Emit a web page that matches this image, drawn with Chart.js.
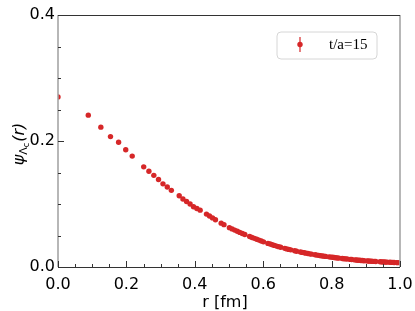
<!DOCTYPE html>
<html>
<head>
<meta charset="utf-8">
<script src="https://cdn.jsdelivr.net/npm/chart.js@4.4.1/dist/chart.umd.min.js"></script>
<style>
html, body { margin: 0; padding: 0; background: #fff; }
#wrap { width: 415px; height: 311px; }
</style>
</head>
<body>
<div id="wrap"><canvas id="psiChart" width="415" height="311"></canvas></div>
<script>
// lattice distances r [fm] and wave function values
var rVals = [0, 0.0886, 0.1253, 0.1535, 0.1772, 0.1981, 0.2170, 0.2506, 0.2658, 0.2802,
    0.2939, 0.3069, 0.3195, 0.3315, 0.3544, 0.3653, 0.3759, 0.3862, 0.3962, 0.4060,
    0.4156, 0.4341, 0.4430, 0.4518, 0.4604, 0.4771, 0.4853, 0.5012, 0.5090, 0.5166,
    0.5242, 0.5316, 0.5389, 0.5462, 0.5604, 0.5673, 0.5742, 0.5810, 0.5877, 0.5943,
    0.6009, 0.6138, 0.6202, 0.6265, 0.6327, 0.6389, 0.6450, 0.6511, 0.6630, 0.6689,
    0.6748, 0.6806, 0.6920, 0.6976, 0.7088, 0.7143, 0.7198, 0.7252, 0.7306, 0.7360,
    0.7413, 0.7518, 0.7570, 0.7622, 0.7673, 0.7724, 0.7775, 0.7825, 0.7925, 0.7974,
    0.8023, 0.8072, 0.8120, 0.8169, 0.8216, 0.8311, 0.8359, 0.8405, 0.8452, 0.8544,
    0.8590, 0.8681, 0.8726, 0.8771, 0.8816, 0.8860, 0.8904, 0.8948, 0.9035, 0.9079,
    0.9122, 0.9165, 0.9207, 0.9250, 0.9292, 0.9418, 0.9460, 0.9501, 0.9543, 0.9584,
    0.9624, 0.9706, 0.9746, 0.9786, 0.9826, 0.9906, 0.9945];
var psiVals = [0.270, 0.241, 0.222, 0.207, 0.198, 0.186, 0.176, 0.159, 0.152, 0.1455,
    0.139, 0.132, 0.127, 0.1217, 0.113, 0.108, 0.104, 0.100, 0.0957, 0.0929,
    0.0902, 0.0840, 0.0810, 0.0779, 0.0749, 0.0696, 0.0672, 0.0625, 0.0605, 0.0586,
    0.0567, 0.0549, 0.0532, 0.0515, 0.0484, 0.0469, 0.0455, 0.0441, 0.0427, 0.0413,
    0.0399, 0.0375, 0.0364, 0.0353, 0.0343, 0.0332, 0.0323, 0.0313, 0.0296, 0.0287,
    0.0279, 0.0272, 0.0257, 0.0250, 0.0238, 0.0232, 0.0226, 0.0220, 0.0214, 0.0209,
    0.0204, 0.0194, 0.0189, 0.0185, 0.0180, 0.0176, 0.0172, 0.0168, 0.0161, 0.0157,
    0.0154, 0.0150, 0.0147, 0.0144, 0.0141, 0.0135, 0.0132, 0.0129, 0.0126, 0.0121,
    0.0118, 0.0113, 0.0111, 0.0108, 0.0106, 0.0104, 0.0102, 0.0100, 0.0097, 0.0095,
    0.0093, 0.0092, 0.0090, 0.0089, 0.0087, 0.0083, 0.0082, 0.0080, 0.0079, 0.0078,
    0.0077, 0.0075, 0.0074, 0.0073, 0.0072, 0.0070, 0.0069];
var seriesLabel = 't/a=15';
var xMajor = [0, 0.2, 0.4, 0.6, 0.8, 1.0];
var yMajor = [0, 0.2, 0.4];
var xMinorStep = 0.05;
var yMinorStep = 0.05;

var red = '#d62728';
var points = [];
for (var i = 0; i < rVals.length; i++) {
    points.push({x: rVals[i], y: psiVals[i]});
}

var framePlugin = {
    id: 'frame',
    afterDatasetsDraw: function(chart) {
        var c = chart.ctx;
        var a = chart.chartArea;
        var xs = chart.scales.x, ys = chart.scales.y;
        c.save();
        // spines
        c.lineWidth = 1.5;
        c.strokeStyle = '#a0a0a0';
        c.beginPath();
        c.moveTo(a.left, a.top); c.lineTo(a.left, a.bottom);
        c.moveTo(a.right, a.top); c.lineTo(a.right, a.bottom);
        c.stroke();
        c.lineWidth = 1;
        c.strokeStyle = '#333';
        c.beginPath();
        c.moveTo(a.left, a.top + 0.5); c.lineTo(a.right, a.top + 0.5);
        c.moveTo(a.left, a.bottom + 0.5); c.lineTo(a.right, a.bottom + 0.5);
        c.stroke();
        // inward ticks
        c.beginPath();
        for (var v = 0; v <= 1.0001; v += xMinorStep) {
            var px = Math.round(xs.getPixelForValue(v)) + 0.5;
            var major = xMajor.some(function(m) { return Math.abs(m - v) < 1e-6; });
            c.moveTo(px, a.bottom); c.lineTo(px, a.bottom - (major ? 6 : 3));
        }
        for (var w = 0; w <= 0.4001; w += yMinorStep) {
            var py = Math.round(ys.getPixelForValue(w)) + 0.5;
            var majorY = yMajor.some(function(m) { return Math.abs(m - w) < 1e-6; });
            c.moveTo(a.left, py); c.lineTo(a.left + (majorY ? 6 : 3), py);
        }
        c.stroke();

        // x tick labels
        c.fillStyle = '#000';
        c.font = '16px "DejaVu Sans"';
        c.textAlign = 'center';
        c.textBaseline = 'alphabetic';
        xMajor.forEach(function(m) {
            c.fillText(m.toFixed(1), xs.getPixelForValue(m), a.bottom + 22);
        });

        // axis titles
        c.fillText('r [fm]', (a.left + a.right) / 2 - 4, a.bottom + 40);

        c.save();
        c.translate(19, 144);
        c.rotate(-Math.PI / 2);
        c.textAlign = 'left';
        var f1 = 'italic 16px "DejaVu Sans"', f2 = '11px "DejaVu Sans"', f3 = '8px "DejaVu Sans"';
        c.font = f1; var w1 = c.measureText('\u03c8').width;
        c.font = f2; var w2 = c.measureText('\u039b').width;
        c.font = f3; var w3 = c.measureText('c').width;
        c.font = f1; var w4 = c.measureText('(r)').width;
        var x0 = -(w1 + w2 + w3 + w4 + 1) / 2;
        var base = 5;
        c.font = f1; c.fillText('\u03c8', x0, base); x0 += w1;
        c.font = f2; c.fillText('\u039b', x0, base + 3); x0 += w2;
        c.font = f3; c.fillText('c', x0, base + 5); x0 += w3 + 1;
        c.font = f1; c.fillText('(r)', x0, base);
        c.restore();

        // legend
        var lx = 277, ly = 32, lw = 100, lh = 27, rad = 4;
        c.beginPath();
        c.moveTo(lx + rad, ly);
        c.arcTo(lx + lw, ly, lx + lw, ly + lh, rad);
        c.arcTo(lx + lw, ly + lh, lx, ly + lh, rad);
        c.arcTo(lx, ly + lh, lx, ly, rad);
        c.arcTo(lx, ly, lx + lw, ly, rad);
        c.closePath();
        c.fillStyle = 'rgba(255,255,255,0.8)';
        c.fill();
        c.strokeStyle = '#d6d6d6';
        c.lineWidth = 1;
        c.stroke();
        c.strokeStyle = red;
        c.lineWidth = 1.2;
        c.beginPath();
        c.moveTo(300, 37); c.lineTo(300, 52);
        c.stroke();
        c.fillStyle = red;
        c.beginPath();
        c.arc(300, 44.5, 2.7, 0, Math.PI * 2);
        c.fill();
        c.fillStyle = '#000';
        c.font = '15px "Liberation Serif"';
        c.textAlign = 'left';
        c.textBaseline = 'middle';
        c.fillText(seriesLabel, 329, 45.5);
        c.restore();
    }
};

var ctx = document.getElementById('psiChart').getContext('2d');
var chart = new Chart(ctx, {
    type: 'scatter',
    data: {
        datasets: [{
            label: seriesLabel,
            data: points,
            pointRadius: 2.7,
            pointHoverRadius: 2.7,
            pointBackgroundColor: red,
            pointBorderWidth: 0,
            borderColor: red,
            showLine: false,
            clip: 0
        }]
    },
    options: {
        responsive: false,
        devicePixelRatio: 1,
        animation: false,
        layout: { padding: { top: 15, right: 15, left: 0, bottom: 0 } },
        plugins: {
            legend: { display: false },
            tooltip: { enabled: false }
        },
        scales: {
            x: {
                type: 'linear',
                min: 0, max: 1,
                afterFit: function(s) { s.height = 44; },
                grid: { display: false, drawTicks: false },
                border: { display: false },
                ticks: { display: false, stepSize: 0.2 }
            },
            y: {
                type: 'linear',
                min: 0, max: 0.4,
                afterFit: function(s) { s.width = 58; },
                grid: { display: false, drawTicks: false },
                border: { display: false },
                ticks: {
                    stepSize: 0.2,
                    padding: 3,
                    color: '#000',
                    font: { family: 'DejaVu Sans', size: 16 },
                    callback: function(v) { return v.toFixed(1); }
                }
            }
        }
    },
    plugins: [framePlugin]
});
</script>
</body>
</html>
